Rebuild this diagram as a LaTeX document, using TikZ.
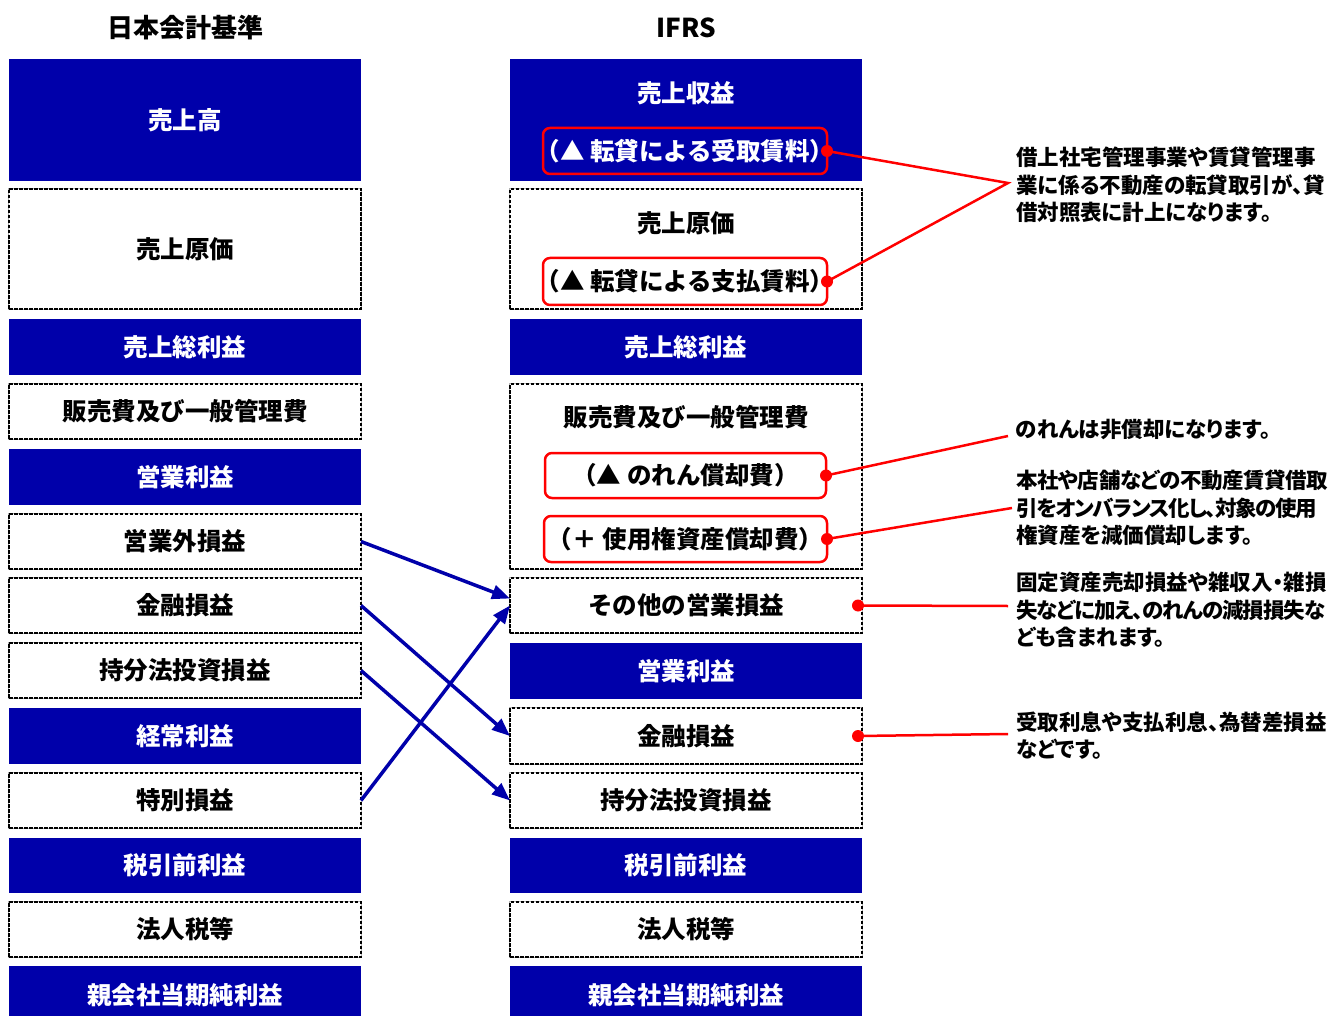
\documentclass[tikz,border=0pt]{standalone}
\usepackage{fontspec}
\setmainfont{Noto Sans CJK JP}
\newfontfamily\notefont{Noto Sans CJK JP}[RawFeature=+palt]
\usetikzlibrary{calc,arrows.meta}
\definecolor{myblue}{RGB}{0,0,170}
\newcommand\mylbl{\fontsize{24.5}{28}\selectfont\bfseries}
\newcommand\myred{\fontsize{24.5}{28}\selectfont\bfseries}
\newcommand\mynote{\notefont\fontsize{21.5}{27.5}\selectfont\bfseries}
\newcommand\myhead{\fontsize{26}{30}\selectfont\bfseries}
\newcommand\sq[2]{{\addfontfeature{LetterSpace=#1}#2}}
\newcommand\mylp{\kern-0.45em（}
\newcommand\myrp{）\kern-0.45em}
\begin{document}
\begin{tikzpicture}[x=1pt,y=-1pt,
  every node/.style={inner sep=0pt,outer sep=0pt},
  box/.style={anchor=north west,minimum width=352pt},
  bluebox/.style={box,fill=myblue,text=white,font=\mylbl},
  dashbox/.style={box,draw=black,line width=2pt,dash pattern=on 3.5pt off 1.5pt,
    preaction={draw=gray!60,solid,line width=2pt},fill=white,font=\mylbl},
  redbox/.style={draw=red,line width=2.5pt,rounded corners=7pt,anchor=north west,font=\myred},
  note/.style={anchor=west,align=left,font=\mynote},
  redline/.style={draw=red,line width=2.5pt},
  arr/.style={draw=myblue,line width=3.5pt,-{Triangle[length=18pt,width=14pt]}},
  lbl/.style={font=\mylbl}]
\useasboundingbox (0,0) rectangle (1333,1016);
\clip (0,0) rectangle (1333,1016);
% headings
\node[font=\myhead] (h1) at (185,28) {日本会計基準};
\node[font=\myhead] (h2) at (686,28) {IFRS};
% left column
\node[bluebox,minimum height=122pt] (L1) at (9,59) {売上高};
\node[dashbox,minimum height=120pt] (L2) at (9,189) {売上原価};
\node[bluebox,minimum height=56pt] (L3) at (9,319) {売上総利益};
\node[dashbox,minimum height=55pt] (L4) at (9,384) {販売費及び一般管理費};
\node[bluebox,minimum height=56pt] (L5) at (9,449) {営業利益};
\node[dashbox,minimum height=55pt] (L6) at (9,514) {営業外損益};
\node[dashbox,minimum height=55pt] (L7) at (9,578) {金融損益};
\node[dashbox,minimum height=55pt] (L8) at (9,643) {持分法投資損益};
\node[bluebox,minimum height=56pt] (L9) at (9,708) {経常利益};
\node[dashbox,minimum height=55pt] (L10) at (9,773) {特別損益};
\node[bluebox,minimum height=55pt] (L11) at (9,838) {税引前利益};
\node[dashbox,minimum height=55pt] (L12) at (9,902) {法人税等};
\node[bluebox,minimum height=58pt] (L13) at (9,966) {親会社当期純利益};
% right column
\node[bluebox,minimum height=122pt] (R1) at (510,59) {};
\node[lbl,text=white] (R1t) at (686,93) {売上収益};
\node[redbox,minimum width=284pt,minimum height=46pt,text=white] (rA) at (543,128) {\mylp▲ 転貸による受取賃料\myrp};
\node[dashbox,minimum height=120pt] (R2) at (510,189) {};
\node[lbl] (R2t) at (686,223) {売上原価};
\node[redbox,minimum width=284pt,minimum height=47pt] (rB) at (543,258) {\mylp▲ 転貸による支払賃料\myrp};
\node[bluebox,minimum height=56pt] (R3) at (510,319) {売上総利益};
\node[dashbox,minimum height=185pt] (R4) at (510,384) {};
\node[lbl] (R4t) at (686,417) {販売費及び一般管理費};
\node[redbox,minimum width=281pt,minimum height=45pt] (rC) at (545,453) {（▲ のれん償却費）};
\node[redbox,minimum width=283pt,minimum height=46pt] (rD) at (544,516) {\mylp＋ 使用権資産償却費\myrp};
\node[dashbox,minimum height=55pt] (R5) at (510,578) {その他の営業損益};
\node[bluebox,minimum height=56pt] (R6) at (510,643) {営業利益};
\node[dashbox,minimum height=56pt] (R7) at (510,708) {金融損益};
\node[dashbox,minimum height=55pt] (R8) at (510,773) {持分法投資損益};
\node[bluebox,minimum height=55pt] (R9) at (510,838) {税引前利益};
\node[dashbox,minimum height=55pt] (R10) at (510,902) {法人税等};
\node[bluebox,minimum height=58pt] (R11) at (510,966) {親会社当期純利益};
% blue arrows
\draw[arr] (L6.east) -- ($(R5.west)+(0,-7)$);
\draw[arr] (L7.east) -- (R7.west);
\draw[arr] (L8.east) -- (R8.west);
\draw[arr] (L10.east) -- (R5.west);
% notes
\node[note] (t1) at (1016,185) {借上社宅管理事業や賃貸管理事\\業に係る不動産の転貸取引が、貸\\借対照表に計上になります。};
\node[note] (t2) at (1016,429) {のれんは非償却になります。};
\node[note] (t3) at (1016,508) {\sq{-2}{本社や店舗などの不動産賃貸借取}\\\sq{-6}{引をオンバランス化し、対象の使用}\\権資産を減価償却します。};
\node[note] (t4) at (1016,610) {固定資産売却損益や雑収入・雑損\\\sq{-5}{失などに加え、のれんの減損損失な}\\ども含まれます。};
\node[note] (t5) at (1016,735.5) {受取利息や支払利息、為替差損益\\などです。};
% red connectors
\coordinate (n1) at (1008,183);
\coordinate (n2) at (1008,436);
\coordinate (n3) at (1012,508);
\coordinate (n4) at (1008,606);
\coordinate (n5) at (1008,734);
\coordinate (d4) at ($(R5.east)+(-4,0)$);
\coordinate (d5) at ($(R7.east)+(-4,0)$);
\draw[redline] (rA.east) -- (n1) -- (rB.east);
\draw[redline] (rC.east) -- (n2);
\draw[redline] (rD.east) -- (n3);
\draw[redline] (d4) -- (n4);
\draw[redline] (d5) -- (n5);
\foreach \p in {rA.east,rB.east,rC.east,rD.east,d4,d5}
  \fill[red] (\p) circle (6pt);
\end{tikzpicture}
\end{document}
